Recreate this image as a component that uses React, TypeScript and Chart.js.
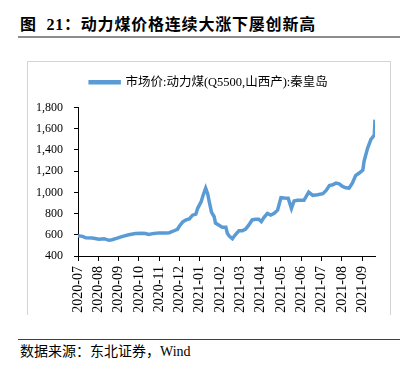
import React, { useEffect, useRef } from "react";
import { Chart, registerables } from "chart.js";

Chart.register(...registerables);

const title = "图  21：动力煤价格连续大涨下屡创新高";
const source = "数据来源：东北证券，Wind";
const seriesName = "市场价:动力煤(Q5500,山西产):秦皇岛";

const monthLabels = [
  "2020-07", "2020-08", "2020-09", "2020-10", "2020-11", "2020-12", "2021-01",
  "2021-02", "2021-03", "2021-04", "2021-05", "2021-06", "2021-07", "2021-08", "2021-09",
];

const yTicks = [400, 600, 800, 1000, 1200, 1400, 1600, 1800];

const dates = [
  "2020-07-01", "2020-07-08", "2020-07-13", "2020-07-23", "2020-08-02", "2020-08-10",
  "2020-08-17", "2020-08-22", "2020-08-30", "2020-09-07", "2020-09-16", "2020-09-26",
  "2020-10-06", "2020-10-11", "2020-10-16", "2020-10-24", "2020-11-01", "2020-11-11",
  "2020-11-16", "2020-11-23", "2020-11-28", "2020-12-01", "2020-12-06", "2020-12-11",
  "2020-12-16", "2020-12-21", "2020-12-26", "2020-12-29", "2021-01-03", "2021-01-06",
  "2021-01-10", "2021-01-13", "2021-01-16", "2021-01-19", "2021-01-23", "2021-01-25",
  "2021-01-31", "2021-02-04", "2021-02-09", "2021-02-11", "2021-02-14", "2021-02-18",
  "2021-02-22", "2021-02-27", "2021-03-04", "2021-03-09", "2021-03-14", "2021-03-19",
  "2021-03-24", "2021-03-29", "2021-04-02", "2021-04-06", "2021-04-11", "2021-04-16",
  "2021-04-21", "2021-04-26", "2021-05-01", "2021-05-06", "2021-05-12", "2021-05-17",
  "2021-05-21", "2021-05-26", "2021-06-05", "2021-06-12", "2021-06-18", "2021-06-25",
  "2021-07-03", "2021-07-08", "2021-07-13", "2021-07-18", "2021-07-23", "2021-07-28",
  "2021-08-02", "2021-08-07", "2021-08-12", "2021-08-17", "2021-08-22", "2021-08-27",
  "2021-09-02", "2021-09-04", "2021-09-09", "2021-09-14", "2021-09-19", "2021-09-20",
];

const prices = [
  590, 585, 572, 570, 558, 563,
  548, 553, 568, 585, 600, 612,
  615, 612, 603, 613, 618, 618,
  620, 638, 652, 683, 722, 740,
  750, 785, 795, 852, 910, 970,
  1040, 988, 895, 812, 770, 710,
  688, 672, 672, 615, 585, 563,
  600, 637, 637, 653, 693, 740,
  746, 746, 724, 764, 802, 786,
  802, 832, 950, 947, 945, 848,
  919, 925, 925, 1003, 972, 978,
  988, 1018, 1065, 1071, 1087, 1081,
  1056, 1043, 1040, 1087, 1158, 1180,
  1210, 1297, 1415, 1499, 1540, 1685,
];

function dateToMonthIndex(s: string): number {
  const [y, m, d] = s.split("-").map(Number);
  const idx = (y - 2020) * 12 + (m - 7);
  const dim = new Date(y, m, 0).getDate();
  return idx + (d - 1) / dim;
}

const FONT = "'Liberation Serif', 'Times New Roman', 'Noto Sans CJK SC', serif";
const BLUE = "#5B9BD5";

export default function App() {
  const ref = useRef<HTMLCanvasElement | null>(null);

  useEffect(() => {
    const canvas = ref.current;
    if (!canvas) return;
    const points = dates.map((d, i) => ({ x: dateToMonthIndex(d), y: prices[i] }));
    const xMax = points[points.length - 1].x;
    const chart = new Chart(canvas, {
      type: "line",
      data: {
        datasets: [
          {
            label: seriesName,
            data: points,
            borderColor: BLUE,
            backgroundColor: BLUE,
            borderWidth: 3.5,
            pointRadius: 0,
            tension: 0,
            xAxisID: "x",
            yAxisID: "y",
          },
        ],
      },
      options: {
        animation: false,
        responsive: false,
        maintainAspectRatio: false,
        layout: { padding: { left: 0, right: 0, top: 4, bottom: 0 } },
        plugins: {
          legend: {
            display: true,
            position: "top",
            labels: {
              font: { family: FONT, size: 12.5 },
              color: "#000",
              boxWidth: 29,
              boxHeight: 1,
              padding: 10,
            },
          },
          tooltip: { enabled: false },
        },
        scales: {
          x: {
            type: "linear",
            position: "bottom",
            min: 0,
            max: xMax,
            afterBuildTicks: (scale: any) => {
              scale.ticks = monthLabels.map((_, i) => ({ value: i }));
            },
            afterFit: (scale: any) => {
              scale.height = 59;
            },
            ticks: {
              autoSkip: false,
              minRotation: 90,
              maxRotation: 90,
              padding: 5,
              color: "#000",
              font: { family: FONT, size: 14 },
              callback: (v: any) => monthLabels[Math.round(Number(v))] ?? "",
            },
            grid: {
              display: true,
              drawOnChartArea: false,
              drawTicks: true,
              tickLength: 5,
              color: "#000",
            },
            border: { display: true, color: "#000", width: 1 },
          },
          xTopGap: {
            type: "linear",
            position: "top",
            min: 0,
            max: 1,
            afterFit: (scale: any) => {
              scale.height = 9;
            },
            ticks: { display: false },
            grid: { display: false, drawTicks: false },
            border: { display: false },
          },
          y: {
            type: "linear",
            position: "left",
            min: 400,
            max: 1800,
            afterBuildTicks: (scale: any) => {
              scale.ticks = yTicks.map((v) => ({ value: v }));
            },
            afterFit: (scale: any) => {
              scale.width = 50;
            },
            ticks: {
              padding: 11,
              color: "#000",
              font: { family: FONT, size: 12 },
              callback: (v: any) => Number(v).toLocaleString("en-US"),
            },
            grid: {
              display: true,
              drawOnChartArea: false,
              drawTicks: true,
              tickLength: 4,
              color: "#000",
            },
            border: { display: true, color: "#000", width: 1 },
          },
          yRightGap: {
            type: "linear",
            position: "right",
            min: 0,
            max: 1,
            afterFit: (scale: any) => {
              scale.width = 15;
            },
            ticks: { display: false },
            grid: { display: false, drawTicks: false },
            border: { display: false },
          },
        },
      },
    });
    return () => chart.destroy();
  }, []);

  return (
    <div
      style={{
        position: "fixed",
        left: 0,
        top: 0,
        width: 414,
        height: 368,
        background: "#fff",
        fontFamily: FONT,
        color: "#000",
      }}
    >
      <div
        style={{
          position: "absolute",
          left: 20,
          top: 14,
          fontSize: 16,
          fontWeight: "bold",
          whiteSpace: "pre",
          letterSpacing: 0.8,
          lineHeight: "22px",
        }}
      >
        {title}
      </div>
      <div
        style={{
          position: "absolute",
          left: 18,
          top: 36,
          width: 382,
          height: 2,
          background: "#8c8c8c",
        }}
      />
      <div
        style={{
          position: "absolute",
          left: 27,
          top: 61,
          width: 364,
          height: 254,
          borderLeft: "1px solid #d4d4d4",
          borderTop: "1px solid #d4d4d4",
          borderRight: "1px solid #d4d4d4",
          boxSizing: "border-box",
        }}
      >
        <canvas
          ref={ref}
          width={362}
          height={253}
          style={{ position: "absolute", left: 0, top: 0, width: 362, height: 253 }}
        />
      </div>
      <div
        style={{
          position: "absolute",
          left: 18,
          top: 339,
          width: 382,
          height: 1,
          background: "#404040",
        }}
      />
      <div
        style={{
          position: "absolute",
          left: 20,
          top: 343,
          fontSize: 14,
          lineHeight: "18px",
          whiteSpace: "pre",
        }}
      >
        {source}
      </div>
    </div>
  );
}
